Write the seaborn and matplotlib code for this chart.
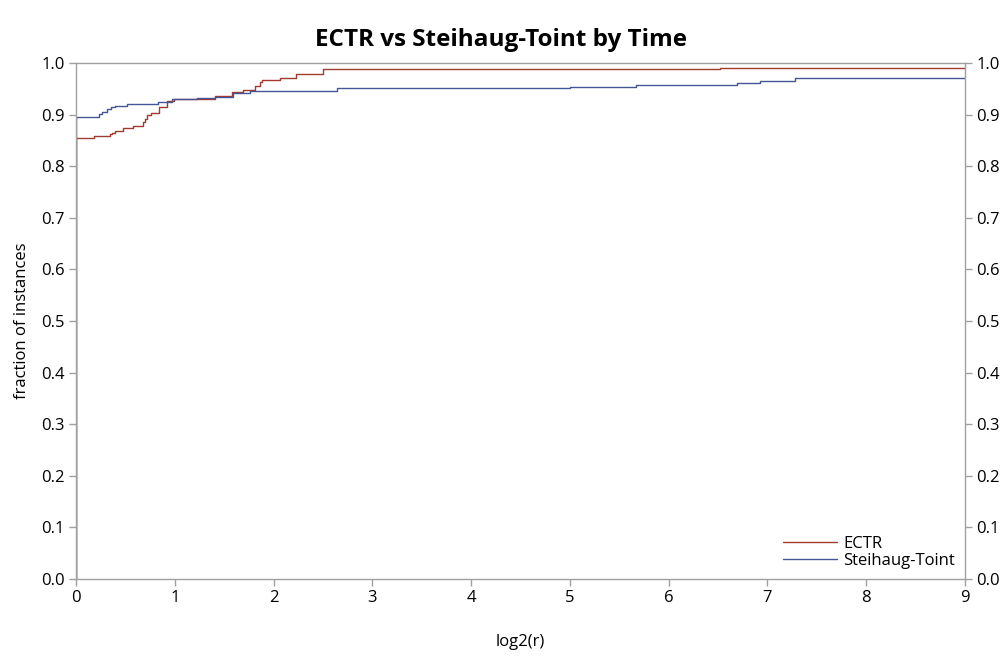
import pandas as pd
import seaborn as sns
import matplotlib.pyplot as plt

# performance profile steps (log2 ratio, fraction solved)
ectr_x = [0, 0, 0.18, 0.34, 0.36, 0.39, 0.48, 0.58, 0.68, 0.70, 0.72, 0.76, 0.84,
          0.92, 0.99, 1.41, 1.58, 1.69, 1.81, 1.86, 1.88, 2.07, 2.23, 2.50, 6.52, 9]
ectr_y = [0, 0.855, 0.859, 0.862, 0.865, 0.868, 0.874, 0.878, 0.886, 0.891, 0.899,
          0.904, 0.915, 0.926, 0.930, 0.937, 0.943, 0.948, 0.956, 0.964, 0.967,
          0.970, 0.979, 0.988, 0.991, 0.991]
st_x = [0, 0, 0.236, 0.26, 0.31, 0.35, 0.395, 0.52, 0.83, 0.97, 1.22, 1.41, 1.59,
        1.76, 2.64, 5.0, 5.67, 6.69, 6.92, 7.28, 9]
st_y = [0, 0.896, 0.901, 0.906, 0.910, 0.914, 0.917, 0.921, 0.925, 0.930, 0.933,
        0.935, 0.941, 0.946, 0.951, 0.954, 0.958, 0.962, 0.966, 0.971, 0.971]
series = ["ECTR", "Steihaug-Toint"]
colors = ["#A23A2E", "#445694"]
y_ticks = [i / 10 for i in range(11)]


def build_frame():
	parts = []
	for name, xs, ys in zip(series, [ectr_x, st_x], [ectr_y, st_y]):
		parts.append(pd.DataFrame({"log2(r)": xs, "fraction": ys, "solver": name}))
	return pd.concat(parts, ignore_index=True)


def main():
	sns.set_theme(style="white")
	plt.rcParams["font.family"] = ["Open Sans", "DejaVu Sans"]
	plt.rcParams["text.color"] = "black"
	plt.rcParams["axes.labelcolor"] = "black"
	plt.rcParams["xtick.color"] = "black"
	plt.rcParams["ytick.color"] = "black"
	df = build_frame()

	fig = plt.figure(figsize=(10.03, 6.59), dpi=100)
	ax = fig.add_axes([0.0758, 0.1214, 0.8863, 0.7830])
	sns.lineplot(data=df, x="log2(r)", y="fraction", hue="solver",
		palette=dict(zip(series, colors)), estimator=None, sort=False,
		drawstyle="steps-post", linewidth=1.0, ax=ax)

	ax.set_xlim(0, 9)
	ax.set_ylim(0, 1.0)
	ax.set_yticks(y_ticks)
	ax.set_yticklabels(["{:.1f}".format(t) for t in y_ticks])
	ax.set_xticks(range(10))
	ax.tick_params(axis="both", which="both", direction="out", length=5,
		width=1, color="#a0a0a0", labelcolor="black", labelsize=12, pad=3,
		left=True, bottom=True, right=True, labelright=True)
	for s in ax.spines.values():
		s.set_color("#a0a0a0")
		s.set_linewidth(1)
	ax.set_xlabel("log2(r)", fontsize=12, labelpad=20)
	ax.set_ylabel("fraction of instances", fontsize=12, labelpad=8)
	fig.suptitle("ECTR vs Steihaug-Toint by Time", fontsize=17.5, fontweight="bold", y=0.958)

	leg = ax.legend(loc="lower right", frameon=False, fontsize=12,
		handlelength=3.2, handletextpad=0.4, labelspacing=0.05,
		borderaxespad=0.2)
	for line in leg.get_lines():
		line.set_linewidth(1.0)
	for t in leg.get_texts():
		t.set_color("black")

	fig.savefig("out.png", dpi=100)
	plt.close(fig)


if __name__ == "__main__":
	main()
